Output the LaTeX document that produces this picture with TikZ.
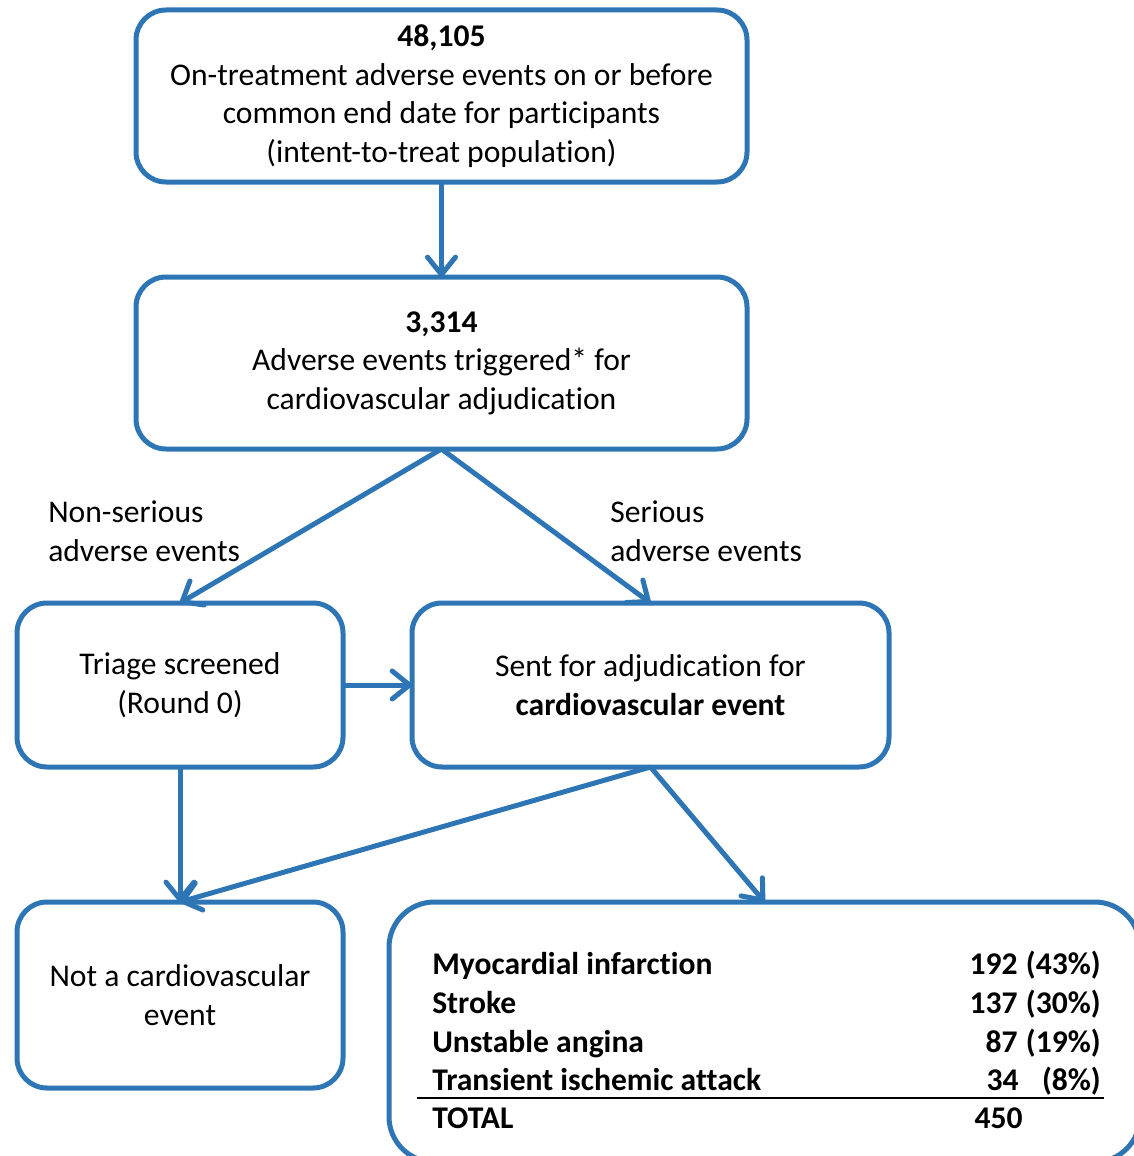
\documentclass[tikz,border=0pt]{standalone}
\usepackage{fontspec}
\setmainfont[Ligatures={NoCommon}]{Carlito}
\usetikzlibrary{arrows.meta}
\definecolor{boxblue}{HTML}{2E75B6}
\begin{document}
\begin{tikzpicture}[x=0.75pt,y=-0.75pt,
  every node/.style={font=\fontsize{23.7}{28.9}\selectfont},
  box/.style={draw=boxblue,line width=3.75pt,rounded corners=22.5pt,inner sep=0pt,outer sep=0pt,align=center},
  conn/.style={draw=boxblue,line width=3.75pt,-{Straight Barb[length=13pt,width=21pt,line cap=round,line join=round]}},
  lbl/.style={inner sep=0pt,align=left},
  cell/.style={inner sep=0pt,font=\fontsize{23.7}{28.9}\selectfont\bfseries}]
\clip (0,0) rectangle (1134,1156);
\useasboundingbox (0,0) rectangle (1134,1156);
\node[box,minimum width=458.25pt,minimum height=129pt] (b1) at (441.5,96)
  {\textbf{48,105}\\On-treatment adverse events on or before\\common end date for participants\\(intent-to-treat population)};
\node[box,minimum width=458.25pt,minimum height=129pt] (b2) at (441.5,363)
  {\textbf{3,314}\\Adverse events triggered* for\\cardiovascular adjudication};
\node[box,minimum width=244.5pt,minimum height=123pt] (tri) at (180,685)
  {Triage screened\\(Round 0)};
\node[box,minimum width=357.75pt,minimum height=123pt] (sent) at (650.5,685)
  {Sent for adjudication for\\\textbf{cardiovascular event}};
\node[box,minimum width=244.5pt,minimum height=139.5pt] (notcv) at (180,995)
  {Not a cardiovascular\\event};
\node[box,rounded corners=34pt,minimum width=563.25pt,minimum height=195pt] (tab) at (764.5,1032) {};
\node[lbl,anchor=west] (lnon) at (48,531.5) {Non-serious\\adverse events};
\node[lbl,anchor=west] (lser) at (610,531.5) {Serious\\adverse events};
\draw[conn] (b1.south) -- (b2.north);
\draw[conn] (b2.south) -- (tri.north);
\draw[conn] (b2.south) -- (sent.north);
\draw[conn] (tri.east) -- (sent.west);
\draw[conn] (tri.south) -- (notcv.north);
\draw[conn] (sent.south) -- (notcv.north);
\draw[conn] (sent.south) -- (tab.north);
% table
\node[cell,anchor=base west] (r1) at (432,974) {Myocardial infarction};
\node[cell,anchor=base west] (r2) at (432,1013) {Stroke};
\node[cell,anchor=base west] (r3) at (432,1052) {Unstable angina};
\node[cell,anchor=base west] (r4) at (432,1090) {Transient ischemic attack};
\node[cell,anchor=base west] (r5) at (432,1128) {TOTAL};
\node[cell,anchor=base east] (n1) at (1018,974) {192};
\node[cell,anchor=base east] (n2) at (1018,1013) {137};
\node[cell,anchor=base east] (n3) at (1018,1052) {87};
\node[cell,anchor=base east] (n4) at (1019,1090) {34};
\node[cell,anchor=base east] (n5) at (1023,1128) {450};
\node[cell,anchor=base east] (p1) at (1101,974) {(43\%)};
\node[cell,anchor=base east] (p2) at (1101,1013) {(30\%)};
\node[cell,anchor=base east] (p3) at (1101,1052) {(19\%)};
\node[cell,anchor=base east] (p4) at (1101,1090) {(8\%)};
\coordinate (tl) at (417,1098);
\coordinate (tr) at (1104,1098);
\draw[line width=1.1pt,black] (tl) -- (tr);
\end{tikzpicture}
\end{document}
